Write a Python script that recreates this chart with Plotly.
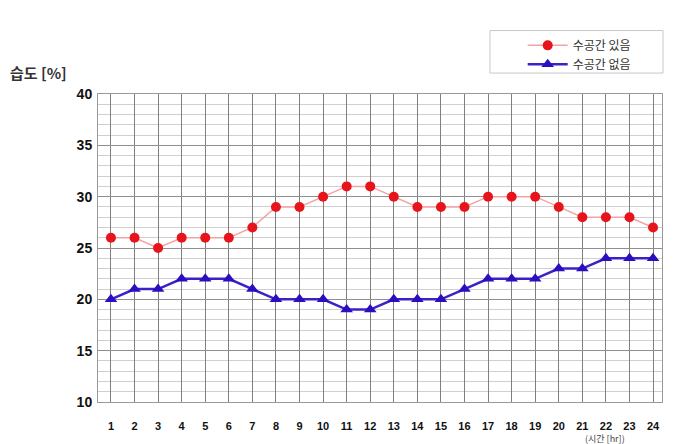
import plotly.graph_objects as go

hours = list(range(1, 25))
with_space = [26, 26, 25, 26, 26, 26, 27, 29, 29, 30, 31, 31, 30, 29, 29, 29, 30, 30, 30, 29, 28, 28, 28, 27]
without_space = [20, 21, 21, 22, 22, 22, 21, 20, 20, 20, 19, 19, 20, 20, 20, 21, 22, 22, 22, 23, 23, 24, 24, 24]
series_names = ["수공간 있음", "수공간 없음"]
y_ticks = [10, 15, 20, 25, 30, 35, 40]

KR = "Noto Sans CJK KR"
NUM = "Liberation Sans"

fig = go.Figure()
fig.add_trace(go.Scatter(
    x=hours, y=with_space, name=series_names[0], mode="lines+markers",
    line=dict(color="#f4a3a3", width=1.5),
    marker=dict(symbol="circle", size=10, color="#e8141c"),
))
fig.add_trace(go.Scatter(
    x=hours, y=without_space, name=series_names[1], mode="lines+markers",
    line=dict(color="#3a22c8", width=2.5),
    marker=dict(symbol="triangle-up", size=11, color="#2a0fc0"),
))

fig.update_layout(
    width=691, height=444,
    margin=dict(l=98, r=29, t=94, b=40),
    paper_bgcolor="white", plot_bgcolor="white",
    showlegend=True,
    legend=dict(
        x=0.753, y=1.205, xanchor="left", yanchor="top",
        bgcolor="rgba(0,0,0,0)", borderwidth=0,
        font=dict(family=KR, size=12, color="#333"),
        itemwidth=40, tracegroupgap=0,
    ),
    xaxis=dict(
        range=[0.45, 24.38], tickvals=hours, ticktext=[str(h) for h in hours],
        showgrid=True, gridcolor="#7f7f7f", gridwidth=1,
        showline=True, linecolor="#9a9a9a", mirror=True,
        tickfont=dict(family=NUM, size=11, color="#111", weight="bold"),
        ticklabelstandoff=14, zeroline=False, fixedrange=True,
    ),
    yaxis=dict(
        range=[10, 40], tickvals=y_ticks,
        showgrid=True, gridcolor="#8f8f8f", gridwidth=1,
        minor=dict(dtick=1, showgrid=True, gridcolor="#cfcfcf", gridwidth=1),
        showline=True, linecolor="#9a9a9a", mirror=True,
        tickfont=dict(family=NUM, size=14, color="#111", weight="bold"),
        ticklabelstandoff=2, zeroline=False, fixedrange=True,
    ),
    shapes=[
        dict(type="rect", xref="paper", yref="paper",
             x0=0.695, x1=1.0018, y0=1.068, y1=1.206,
             line=dict(color="#c8c8c8", width=1), fillcolor="rgba(0,0,0,0)"),
    ],
    annotations=[
        dict(text="<b>습도 [%]</b>", xref="paper", yref="paper", x=-0.16, y=1.071,
             xanchor="left", yanchor="middle", showarrow=False,
             font=dict(family=KR, size=15, color="#333")),
        dict(text="(시간 [hr])", xref="paper", yref="paper", x=0.86, y=-0.09,
             xanchor="left", yanchor="top", showarrow=False,
             font=dict(family=KR, size=9, color="#444")),
    ],
)

fig.write_html("out.html")
